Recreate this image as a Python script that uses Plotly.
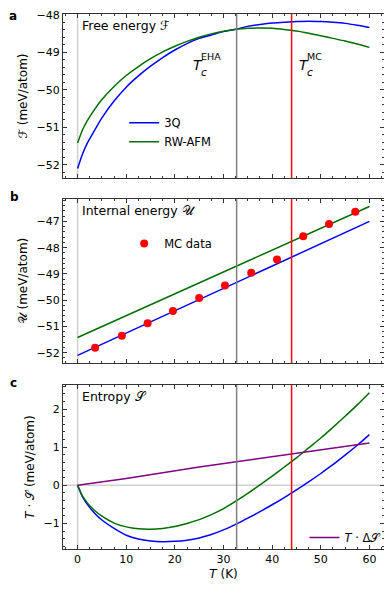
import plotly.graph_objects as go
from plotly.subplots import make_subplots

# temperatures (K) for the smooth curves
T_grid = [0, 1, 2, 3.5, 5, 7.5, 10, 12.5, 15, 17.5, 20, 22.5, 25, 27.5, 30, 32.7, 35,
          37.5, 40, 42.5, 45, 47.5, 50, 52.5, 55, 57.5, 60]

# free energy (meV/atom)
F_3q = [-52.10, -51.72, -51.42, -51.08, -50.75, -50.30, -49.93, -49.63, -49.37, -49.14,
        -48.94, -48.77, -48.63, -48.54, -48.45, -48.38, -48.31, -48.26, -48.22, -48.20,
        -48.18, -48.17, -48.18, -48.20, -48.23, -48.28, -48.34]
F_rw = [-51.42, -51.07, -50.82, -50.52, -50.26, -49.91, -49.62, -49.38, -49.17, -48.99,
        -48.84, -48.71, -48.60, -48.51, -48.44, -48.385, -48.36, -48.35, -48.36, -48.39,
        -48.43, -48.49, -48.56, -48.63, -48.70, -48.78, -48.87]

# internal energy (meV/atom)
T_int = [0, 20, 40, 60]
U_3q = [-52.10, -50.40, -48.70, -47.00]
U_rw = [-51.42, -49.75, -48.08, -46.43]

T_mc = [3.6, 9.1, 14.4, 19.6, 25.0, 30.3, 35.7, 41.0, 46.4, 51.7, 57.1]
U_mc = [-51.81, -51.35, -50.88, -50.41, -49.92, -49.44, -48.95, -48.45, -47.56, -47.10, -46.63]

# entropy term T*S (meV/atom)
TS_3q = [0, -0.30, -0.50, -0.73, -0.91, -1.13, -1.31, -1.41, -1.46, -1.48, -1.47, -1.44,
         -1.38, -1.29, -1.17, -1.01, -0.86, -0.69, -0.51, -0.32, -0.12, 0.09, 0.31, 0.54,
         0.79, 1.05, 1.33]
TS_rw = [0, -0.28, -0.46, -0.66, -0.81, -0.99, -1.09, -1.14, -1.15, -1.13, -1.08, -1.00,
         -0.90, -0.77, -0.61, -0.40, -0.21, 0.01, 0.24, 0.48, 0.72, 0.98, 1.24, 1.52,
         1.81, 2.11, 2.43]
T_dS = [0, 10, 25, 32.7, 44, 60]
TdS = [0, 0.18, 0.48, 0.62, 0.83, 1.11]

Tc_eha = 32.7
Tc_mc = 44.0

BLUE = "#0000ff"
GREEN = "#006e00"
FONT = "DejaVu Sans"

fig = make_subplots(rows=3, cols=1, shared_xaxes=False, vertical_spacing=0.04)

sm = dict(width=1.5, shape="spline", smoothing=0.8)
fig.add_trace(go.Scatter(x=T_grid, y=F_3q, mode="lines", name="3Q", line=dict(color=BLUE, **sm), legend="legend"), 1, 1)
fig.add_trace(go.Scatter(x=T_grid, y=F_rw, mode="lines", name="RW-AFM", line=dict(color=GREEN, **sm), legend="legend"), 1, 1)

fig.add_trace(go.Scatter(x=T_int, y=U_3q, mode="lines", showlegend=False, line=dict(color=BLUE, width=1.5)), 2, 1)
fig.add_trace(go.Scatter(x=T_int, y=U_rw, mode="lines", showlegend=False, line=dict(color=GREEN, width=1.5)), 2, 1)
fig.add_trace(go.Scatter(x=T_mc, y=U_mc, mode="markers", name="MC data", marker=dict(color="#ff0000", size=8), legend="legend2"), 2, 1)

fig.add_trace(go.Scatter(x=T_grid, y=TS_3q, mode="lines", showlegend=False, line=dict(color=BLUE, **sm)), 3, 1)
fig.add_trace(go.Scatter(x=T_grid, y=TS_rw, mode="lines", showlegend=False, line=dict(color=GREEN, **sm)), 3, 1)
fig.add_trace(go.Scatter(x=T_dS, y=TdS, mode="lines", name="<i>T</i> · Δ𝒮", line=dict(color="#800080", width=1.5), legend="legend3"), 3, 1)

# reference lines
for r, yname in [(1, "y"), (2, "y2"), (3, "y3")]:
    xname = "x" if r == 1 else f"x{r}"
    fig.add_shape(type="line", x0=0, x1=0, y0=0, y1=1, xref=xname, yref=f"{yname} domain",
                  line=dict(color="#d0d0d0", width=1.5), layer="below")
    fig.add_shape(type="line", x0=Tc_eha, x1=Tc_eha, y0=0, y1=1, xref=xname, yref=f"{yname} domain",
                  line=dict(color="#808080", width=1.5))
    fig.add_shape(type="line", x0=Tc_mc, x1=Tc_mc, y0=0, y1=1, xref=xname, yref=f"{yname} domain",
                  line=dict(color="#ff0000", width=1.5))
fig.add_shape(type="line", x0=0, x1=1, y0=0, y1=0, xref="x3 domain", yref="y3",
              line=dict(color="#d0d0d0", width=1.5), layer="below")

axis_common = dict(showline=True, linecolor="#333333", linewidth=1, mirror="allticks",
                   ticks="inside", ticklen=4, tickcolor="#333333", showgrid=False, zeroline=False,
                   automargin=False, tickfont=dict(family=FONT, size=11, color="black"))
minor_y = dict(ticks="inside", ticklen=2, dtick=0.2, tickcolor="#333333")

for r in (1, 2, 3):
    fig.update_xaxes(range=[-3, 63], dtick=10, showticklabels=(r == 3),
                     minor=dict(ticks="inside", ticklen=2, dtick=2.5, tickcolor="#333333"),
                     row=r, col=1, **axis_common)

ytitle_font = dict(family=FONT, size=12)
fig.update_yaxes(range=[-52.35, -47.98], dtick=1, minor=minor_y,
                 title=dict(text="ℱ (meV/atom)", font=ytitle_font, standoff=6), row=1, col=1, **axis_common)
fig.update_yaxes(range=[-52.39, -46.15], dtick=1, minor=minor_y,
                 title=dict(text="𝒰 (meV/atom)", font=ytitle_font, standoff=6), row=2, col=1, **axis_common)
fig.update_yaxes(range=[-1.67, 2.63], dtick=1, minor=minor_y,
                 title=dict(text="<i>T</i> · 𝒮 (meV/atom)", font=ytitle_font, standoff=6), row=3, col=1, **axis_common)
fig.update_xaxes(title=dict(text="<i>T</i> (K)", font=ytitle_font, standoff=4), row=3, col=1)

# panel positions (paper fractions inside the plotting area)
fig.update_layout(
    yaxis=dict(domain=[0.6935, 1.0]),
    yaxis2=dict(domain=[0.3477, 0.654]),
    yaxis3=dict(domain=[0.0, 0.3065]),
)

anns = [
    dict(text="Free energy ℱ", x=0.053, y=0.927, xref="x domain", yref="y domain"),
    dict(text="Internal energy 𝒰", x=0.053, y=0.933, xref="x2 domain", yref="y2 domain"),
    dict(text="Entropy 𝒮", x=0.053, y=0.933, xref="x3 domain", yref="y3 domain"),
]
for a in anns:
    fig.add_annotation(showarrow=False, xanchor="left", yanchor="middle",
                       font=dict(family=FONT, size=12.5, color="black"), **a)

# T_c labels
for xt, sup in [(23.3, "EHA"), (45.1, "MC")]:
    fig.add_annotation(text="<i>T</i>", x=xt, y=-49.34, xref="x", yref="y", showarrow=False,
                       xanchor="left", yanchor="middle", font=dict(family=FONT, size=14, color="black"))
    fig.add_annotation(text="<i>c</i>", x=xt + 1.7, y=-49.52, xref="x", yref="y", showarrow=False,
                       xanchor="left", yanchor="middle", font=dict(family=FONT, size=10.5, color="black"))
    fig.add_annotation(text=sup, x=xt + 1.7, y=-49.1, xref="x", yref="y", showarrow=False,
                       xanchor="left", yanchor="middle", font=dict(family=FONT, size=9.5, color="black"))

# panel letters (figure top sits 6px above the first panel)
fig.add_annotation(text="<b>a</b>", x=-55 / 322, y=(535 + 6) / 535, xref="paper", yref="paper",
                   showarrow=False, xanchor="left", yanchor="top", borderpad=0,
                   font=dict(family=FONT, size=12, color="black"))
for letter, yp in [("b", 197), ("c", 383)]:
    fig.add_annotation(text=f"<b>{letter}</b>", x=-55 / 322, y=(549 - yp) / 535,
                       xref="paper", yref="paper", showarrow=False, xanchor="left", yanchor="middle",
                       font=dict(family=FONT, size=12, color="black"))

leg = dict(bgcolor="rgba(0,0,0,0)", borderwidth=0, font=dict(family=FONT, size=11.5, color="black"),
           xanchor="left", yanchor="top", itemwidth=30, tracegroupgap=0)
# the page body adds an 8px offset, so the figure is 8px smaller with trimmed margins
fig.update_layout(
    legend=dict(x=0.19, y=0.824, **leg),
    legend2=dict(x=0.19, y=0.598, **leg),
    legend3=dict(x=0.75, y=0.0486, **leg),
    width=384, height=586,
    margin=dict(l=55, r=7, t=6, b=45),
    plot_bgcolor="white", paper_bgcolor="white",
    font=dict(family=FONT, size=11, color="black"),
)

fig.write_html("out.html")
